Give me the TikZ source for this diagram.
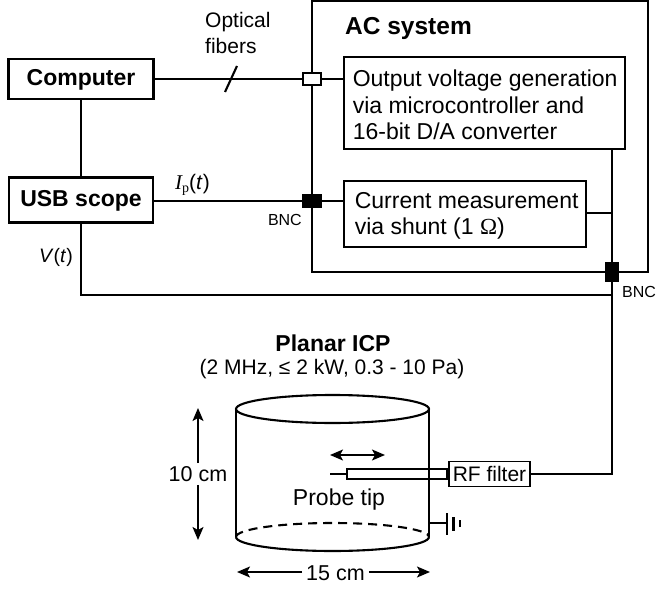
\documentclass[tikz,border=0pt]{standalone}
\usepackage{amsmath,amssymb}
\usepackage{xcolor}
\usepackage{fontspec}
\setmainfont{Liberation Sans}
\newfontfamily\serifpart{Liberation Serif}
\usetikzlibrary{calc,arrows.meta}
\newcommand{\fsize}[1]{\fontsize{#1}{#1}\selectfont}
\tikzset{
  base/.style={draw=black, line width=2.1pt, line cap=butt, line join=miter},
  sysbox/.style={base, inner sep=0pt, fill=white},
  boldbox/.style={sysbox, font=\fsize{23}\bfseries, text height=17pt, text depth=4pt},
  textbox/.style={draw=black, line width=1.6pt, fill=white, inner sep=0pt, font=\fsize{23}, align=left},
  lab/.style={font=\fsize{21}, inner sep=0pt},
  labs/.style={font=\fsize{16}, inner sep=0pt},
  arr/.style={line width=1.7pt, {Stealth[length=13pt,width=11pt,inset=3pt]}-{Stealth[length=13pt,width=11pt,inset=3pt]}},
  arrone/.style={line width=1.7pt, -{Stealth[length=13pt,width=11pt,inset=3pt]}}
}
\begin{document}
\begin{tikzpicture}[x=1pt,y=-1pt]
  \useasboundingbox (0,0) rectangle (656,591);
  % AC system
  \node[sysbox, minimum width=336pt, minimum height=271pt] (acsys) at (480,136.5) {};
  \node[anchor=west, inner sep=0pt, font=\fsize{24.5}\bfseries] (achead) at (345,28) {AC system};
  \node[textbox, minimum width=281pt, minimum height=92pt] (outbox) at (484.5,103) {};
  \node[textbox, anchor=west, draw=none, fill=none] (outtext) at (352,105) {Output voltage generation\\[3.5pt]via microcontroller and\\[3.5pt]16-bit D/A converter};
  \node[textbox, minimum width=242pt, minimum height=66pt] (curbox) at (465,214) {};
  \node[textbox, anchor=west, draw=none, fill=none] (curtext) at (354,216) {Current measurement\\[3.5pt]via shunt (1 {\serifpart Ω})};
  % left side
  \node[boldbox, minimum width=145pt, minimum height=40pt] (comp) at (81,79) {Computer};
  \node[boldbox, minimum width=144pt, minimum height=45pt] (scope) at (81,200) {USB scope};
  % connectors
  \node[draw=black, line width=1.7pt, fill=white, minimum width=18pt, minimum height=12pt, inner sep=0pt] (fibcon) at (312,79) {};
  \node[fill=black, minimum width=20pt, minimum height=14pt, inner sep=0pt] (bncleft) at (312,201) {};
  \node[fill=black, minimum width=14pt, minimum height=20pt, inner sep=0pt] (bncright) at (612,272) {};
  % probe and filter
  \node[sysbox, line width=1.6pt, minimum width=81pt, minimum height=25pt, font=\fsize{21}] (rffilter) at (489.5,474) {RF filter};
  \node[sysbox, line width=1.8pt, minimum width=100pt, minimum height=10pt, anchor=east] (tube) at (448,474) {};
  \coordinate (tip) at (330,474);
  \draw[base] (comp.east) -- (fibcon.west);
  \draw[base] (fibcon.east) -- (outbox.west |- fibcon.east);
  \draw[base] (comp.south) -- (scope.north);
  \draw[base] (scope.east |- bncleft.west) -- (bncleft.west);
  \draw[base] (bncleft.east) -- (curbox.west |- bncleft.east);
  \coordinate (vcorner) at (scope.south |- 0,295);
  \draw[base] (scope.south) -- (vcorner) -- (vcorner -| bncright.south);
  \draw[base] (curbox.east |- 0,213) -- (bncright.north |- 0,213);
  \draw[base] (outbox.south -| bncright.north) -- (bncright.north);
  \coordinate (filtcorner) at (bncright.south |- rffilter.east);
  \draw[base] (bncright.south) -- (filtcorner) -- (rffilter.east);
  \draw[base] (tip) -- (tube.west);
  \draw[base] (225,92) -- (237,66);
  % cylinder
  \coordinate (cyltl) at (236,409);
  \coordinate (cyltr) at (429,409);
  \coordinate (cylbl) at (236,537);
  \coordinate (cylbr) at (429,537);
  \draw[base] (332.5,409) ellipse (96.5pt and 14pt);
  \draw[base] (cyltl) -- (cylbl);
  \draw[base] (cyltr) -- (cylbr);
  \draw[base] (cylbl) arc[start angle=180, end angle=360, x radius=96.5pt, y radius=14pt];
  \draw[base, dash pattern=on 9pt off 6pt] (cylbl) arc[start angle=180, end angle=360, x radius=96.5pt, y radius=-14pt];
  % ground
  \coordinate (gnd) at (447,523);
  \draw[base] (429,523) -- (gnd);
  \draw[base] (447,513) -- (447,535);
  \draw[base] (453.5,517) -- (453.5,531);
  \draw[base, line width=2.4pt] (460,520) -- (460,527);
  % labels
  \node[lab, anchor=west, align=left] (fibers) at (205,33) {Optical\\[5pt]fibers};
  \node[lab, anchor=south west] (ip) at (175,196) {{\serifpart\itshape I}\raisebox{-3pt}{\serifpart\fsize{14}p}(\textit{t})};
  \node[lab, font=\fsize{19.5}, anchor=east] (vt) at (73,257) {\textit{V}(\textit{t})};
  \node[labs, anchor=east] (bncl) at (302,220) {BNC};
  \node[labs, anchor=west] (bncr) at (622,292) {BNC};
  \node[inner sep=0pt, font=\fsize{23}\bfseries] (icp) at (333,343) {Planar ICP};
  \node[lab] (icpdata) at (332,369) {(2 MHz, ≤ 2 kW, 0.3 - 10 Pa)};
  \node[lab, font=\fsize{23}] (probe) at (339,500) {Probe tip};
  \draw[arr] (330,455) -- (385,455);
  \node[lab, font=\fsize{21.5}, inner ysep=3pt] (hgt) at (198,474) {10 cm};
  \coordinate (hgttop) at (198,408);
  \coordinate (hgtbot) at (198,540);
  \draw[arrone] (hgt.north) -- (hgttop);
  \draw[arrone] (hgt.south) -- (hgtbot);
  \node[lab, font=\fsize{21.5}, inner xsep=4pt] (wid) at (335.5,573) {15 cm};
  \coordinate (widl) at (237,572);
  \coordinate (widr) at (430,572);
  \draw[arrone] (wid.west |- widl) -- (widl);
  \draw[arrone] (wid.east |- widr) -- (widr);
\end{tikzpicture}
\end{document}
